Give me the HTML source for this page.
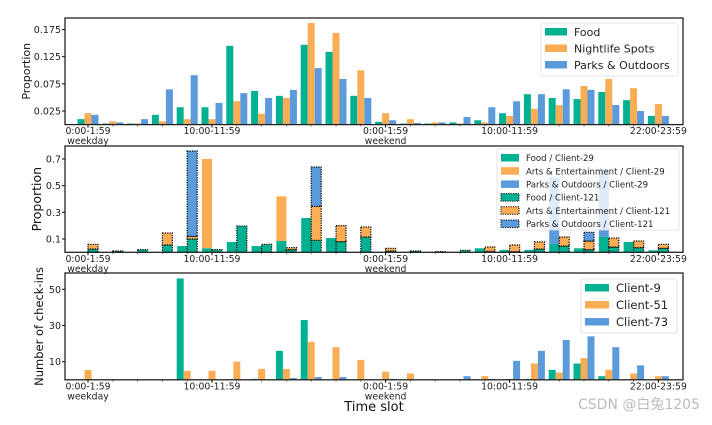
<!DOCTYPE html>
<html><head><meta charset="utf-8"><style>
body{margin:0;background:#fff;width:712px;height:420px;overflow:hidden}
svg{font-family:"DejaVu Sans","Liberation Sans","Noto Sans CJK SC",sans-serif}
</style></head><body>
<svg id="chart" width="712" height="420" xmlns="http://www.w3.org/2000/svg"></svg>
<script>
const slots = ["0:00-1:59 weekday","2-3","4-5","6-7","8-9","10:00-11:59","12-13","14-15","16-17","18-19","20-21","22-23","0:00-1:59 weekend","2-3","4-5","6-7","8-9","10:00-11:59","12-13","14-15","16-17","18-19","20-21","22:00-23:59"];
const tickSlots = [0,5,12,17,23];
const tickLabels = ["0:00-1:59","10:00-11:59","0:00-1:59","10:00-11:59","22:00-23:59"];
const tickSub = ["weekday","","weekend","",""];
// panel 1
const foodProp = [.010,.002,.002,.018,.032,.032,.145,.062,.053,.147,.134,.053,.005,.002,.002,.004,.008,.021,.056,.049,.047,.060,.045,.016];
const nightProp = [.021,.006,.002,.006,.010,.010,.043,.020,.049,.187,.169,.100,.021,.010,.004,.002,.004,.016,.029,.036,.071,.084,.067,.038];
const parksProp = [.018,.004,.010,.065,.091,.040,.058,.049,.064,.104,.084,.049,.008,.003,.004,.014,.032,.043,.056,.065,.064,.036,.025,.016];
const p1Ticks = [0.025,0.075,0.125,0.175];
// panel 2
const food29 = [0,0,0,0,.047,.03,.077,.047,.085,.257,.107,0,0,0,0,0,.03,.018,.018,.062,.03,.115,.077,.015];
const arts29 = [0,0,0,0,0,.67,0,0,.335,0,0,0,0,0,0,0,0,0,0,0,0,0,0,0];
const parks29 = [0,0,0,0,0,0,0,0,0,0,0,0,0,0,0,0,0,0,0,.5,0,.5,0,0];
const food121 = [.025,.01,.02,.055,.10,.02,.197,.06,.02,.09,.08,.115,.01,.01,.005,.015,.007,.005,.025,.047,.02,.04,.035,.03];
const arts121 = [.035,0,0,.09,.02,0,0,0,.015,.255,.12,.075,.02,0,0,0,.033,.05,.053,.068,.065,.067,.05,.03];
const parks121 = [0,0,0,0,.64,0,0,0,0,.295,0,0,0,0,0,0,0,0,0,0,.065,0,0,0];
const p2Ticks = [0.1,0.3,0.5,0.7];
// panel 3
const client9 = [0,0,0,0,56,0,0,.5,16,33,0,0,0,0,0,0,0,0,.5,5.5,9,2,0,0];
const client51 = [5.4,0,0,0,5,5,10,6,6,21,18,11,4.5,3.5,0,0,2,.5,9,4,12,5.5,3.5,2];
const client73 = [0,0,0,0,0,0,0,0,1,1.5,1.5,.3,.5,0,0,2,.5,10.5,16,22,24,18,8,2];
const p3Ticks = [10,30,50];

const G="#02b092",O="#fbad56",B="#5b9bdb";
const NS="http://www.w3.org/2000/svg";
const svg=document.getElementById('chart');
function mk(tag,attrs,parent){const e=document.createElementNS(NS,tag);for(const k in attrs)e.setAttribute(k,attrs[k]);(parent||svg).appendChild(e);return e;}
const X0=65,X1=683;
function xc(i){return 88+24.8*i;}
const panels=[{top:18,bot:124.6,y:v=>124.6-543*v},{top:146,bot:252.3,y:v=>252.3-133.3*v},{top:273,bot:379.8,y:v=>379.8-1.81*v}];

function axes(p,ticks,fmt,label,name,lx,lfs){
  const g=mk('g',{});
  
  
  ticks.forEach(t=>{const y=p.y(t);
    mk('line',{x1:X0-3,x2:X0,y1:y,y2:y,stroke:'#000','stroke-width':1},g);
    const tx=mk('text',{x:X0-4,y:y+3.5,'font-size':9.5,'text-anchor':'end',fill:'#222'},g);tx.textContent=fmt(t);
    
    });
  slots.forEach((s,i)=>mk('line',{x1:xc(i),x2:xc(i),y1:p.bot,y2:p.bot+2,stroke:'#666','stroke-width':0.8},g));
  tickSlots.forEach((si,k)=>{
    mk('line',{x1:xc(si),x2:xc(si),y1:p.bot,y2:p.bot+3,stroke:'#000'},g);
    const t=mk('text',{x:xc(si),y:p.bot+9.5,'font-size':9.3,'text-anchor':'middle',fill:'#222'},g);t.textContent=tickLabels[k];
    
    
    if(tickSub[k]){const t2=mk('text',{x:xc(si),y:p.bot+19.5,'font-size':9.3,'text-anchor':'middle',fill:'#222'},g);t2.textContent=tickSub[k];
      
      }
  });
  const cy=(p.top+p.bot)/2;
  const yl=mk('text',{x:0,y:0,'font-size':lfs,'text-anchor':'middle',transform:`translate(${lx},${cy}) rotate(-90)`,fill:'#111'},g);yl.textContent=label;
  
  
}
function frame(p,name){const r=mk('rect',{x:X0,y:p.top,width:X1-X0,height:p.bot-p.top,fill:'none',stroke:'#222','stroke-width':1.3});
  
  }

// Panel 1
const p1=panels[0];
[[foodProp,G,-7,'food'],[nightProp,O,0,'nightlife'],[parksProp,B,7,'parks']].forEach(([arr,c,off,n])=>{
  arr.forEach((v,i)=>{const y=p1.y(v);const r=mk('rect',{x:xc(i)+off-3.5,y:y,width:7,height:p1.bot-y,fill:c});
    
    });
});
axes(p1,p1Ticks,t=>t.toFixed(3),'Proportion','panel1',30,11);frame(p1,'panel1');

// Panel 2
const p2=panels[1];
function stack(i,arrs,off,dotted,n){
  let base=0;
  arrs.forEach(([arr,c,cn])=>{const v=arr[i];if(v<=0)return;
    const y0=p2.y(base),y1=p2.y(base+v);
    const r=mk('rect',{x:xc(i)+off-5,y:y1,width:10,height:y0-y1,fill:c});
    if(dotted){r.setAttribute('stroke','#000');r.setAttribute('stroke-width',1.2);r.setAttribute('stroke-dasharray','1.2,1.2');}
    
    
    base+=v;});
}
slots.forEach((s,i)=>{
  stack(i,[[food29,G,'food'],[arts29,O,'arts'],[parks29,B,'parks']],-5,false,'client29');
  stack(i,[[food121,G,'food'],[arts121,O,'arts'],[parks121,B,'parks']],5,true,'client121');
});
axes(p2,p2Ticks,t=>t.toFixed(1),'Proportion','panel2',41,12.5);frame(p2,'panel2');

// Panel 3
const p3=panels[2];
[[client9,G,-7,'client9'],[client51,O,0,'client51'],[client73,B,7,'client73']].forEach(([arr,c,off,n])=>{
  arr.forEach((v,i)=>{if(v<=0)return;const y=p3.y(v);const r=mk('rect',{x:xc(i)+off-3.5,y:y,width:7,height:p3.bot-y,fill:c});
    
    });
});
axes(p3,p3Ticks,t=>String(t),'Number of check-ins','panel3',43,11.5);frame(p3,'panel3');

// legends
function legend(x,y,w,h,rows,fs,rh,pw,name){
  const g=mk('g',{});
  
  
  mk('rect',{x:x,y:y,width:w,height:h,fill:'#fff','fill-opacity':0.8,stroke:'#ddd','stroke-width':0.8,rx:2},g);
  rows.forEach(([lab,c,dot],k)=>{const cy=y+9+k*rh;
    const r=mk('rect',{x:x+4,y:cy-4,width:pw,height:7.5,fill:c},g);
    if(dot){r.setAttribute('stroke','#000');r.setAttribute('stroke-dasharray','1.2,1.2');}
    const t=mk('text',{x:x+pw+11,y:cy+fs*0.36,'font-size':fs,fill:'#222'},g);t.textContent=lab;
    
    });
}
legend(541,23,137,53,[["Food",G],["Nightlife Spots",O],["Parks & Outdoors",B]],11,16.5,22,'legend-top');
legend(497,149,182,81,[["Food / Client-29",G],["Arts & Entertainment / Client-29",O],["Parks & Outdoors / Client-29",B],["Food / Client-121",G,1],["Arts & Entertainment / Client-121",O,1],["Parks & Outdoors / Client-121",B,1]],8.6,13.2,18,'legend-middle');
legend(581,279,96,54,[["Client-9",G],["Client-51",O],["Client-73",B]],11.5,17,24,'legend-bottom');

const xt=mk('text',{x:374,y:411,'font-size':13,'text-anchor':'middle',fill:'#111'});xt.textContent='Time slot';


const wm=mk('text',{x:700,y:409,'font-size':14,'text-anchor':'end',fill:'#bbb'});wm.textContent='CSDN @白兔1205';


</script>
</body></html>
